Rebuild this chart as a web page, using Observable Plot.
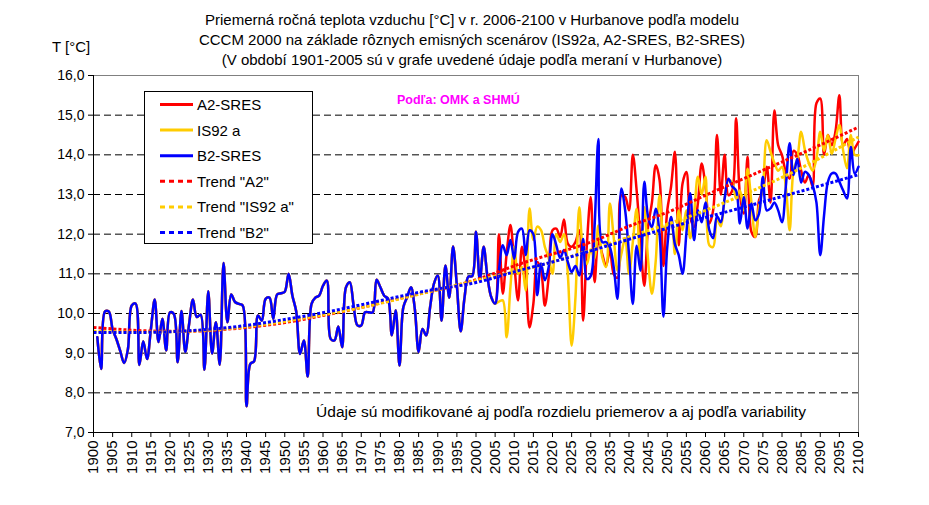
<!DOCTYPE html>
<html><head><meta charset="utf-8">
<script src="https://cdn.jsdelivr.net/npm/d3@7"></script>
<script src="https://cdn.jsdelivr.net/npm/@observablehq/plot@0.6"></script>
<style>body{margin:0;background:#fff;font-family:"Liberation Sans",Arial,sans-serif}</style>
</head><body><div id="chart"></div>
<script>
// Measured values (Hurbanovo), 1901-2005
const firstYear = 1901;
const measured = [
  9.40, 8.60, 10.05, 10.05, 9.60, 9.35, 9.05, 8.75, 9.10, 10.20,
  10.25, 8.70, 9.30, 8.85, 9.60, 10.35, 9.28, 9.87, 9.07, 10.03,
  9.99, 8.77, 10.06, 9.03, 9.74, 10.35, 9.91, 9.97, 8.58, 10.56,
  8.99, 9.78, 8.71, 11.27, 9.78, 10.48, 10.29, 10.24, 10.20, 7.66,
  8.73, 8.80, 9.95, 9.82, 10.37, 10.40, 9.87, 10.48, 10.51, 10.55,
  11.00, 10.45, 10.05, 8.98, 9.32, 8.41, 10.24, 10.40, 10.45, 10.70,
  10.83, 9.36, 9.32, 9.67, 9.15, 10.66, 10.79, 10.20, 9.70, 9.70,
  10.03, 10.03, 10.03, 10.85, 10.66, 10.45, 10.37, 9.45, 10.08, 8.69,
  10.16, 10.41, 10.66, 10.12, 9.03, 9.61, 9.45, 10.16, 10.75, 10.96,
  9.82, 11.21, 10.40, 11.69, 10.70, 9.55, 10.40, 10.93, 10.94, 12.06,
  10.84, 11.68, 10.92, 10.41, 10.25
];
// Scenario values 2006-2100
const futureA2 = [
  12.00, 10.50, 11.50, 12.23, 11.26, 10.33, 11.68, 11.00, 9.65, 10.25,
  11.30, 11.09, 10.20, 10.92, 12.10, 12.14, 11.93, 12.37, 11.76, 11.68,
  11.80, 12.10, 9.82, 11.76, 12.94, 10.79, 11.84, 11.50, 11.20, 11.60,
  11.00, 10.90, 12.98, 12.94, 12.60, 14.00, 13.10, 11.84, 10.70, 12.20,
  12.80, 13.74, 13.36, 11.20, 12.60, 13.20, 14.08, 11.72, 13.28, 13.57,
  12.44, 12.18, 12.77, 13.78, 13.20, 12.27, 12.60, 14.50, 13.00, 14.00,
  12.98, 13.10, 14.92, 13.00, 12.52, 13.95, 12.06, 11.93, 12.86, 13.10,
  13.70, 12.80, 15.12, 14.24, 13.99, 13.57, 13.40, 14.10, 14.00, 13.60,
  13.30, 13.50, 13.20, 15.30, 15.42, 14.00, 14.50, 14.24, 14.60, 15.50,
  14.24, 14.40, 14.00, 14.16, 14.33
];
const futureIS92a = [
  10.30, 10.33, 9.40, 10.67, 11.68, 11.00, 11.17, 10.58, 12.65, 11.85,
  12.19, 12.10, 11.68, 11.40, 11.00, 12.00, 11.80, 12.00, 11.00, 9.19,
  10.40, 12.68, 11.55, 11.25, 11.60, 11.40, 12.22, 11.42, 11.17, 12.77,
  11.92, 11.08, 11.50, 11.90, 11.00, 11.80, 12.64, 11.12, 12.68, 11.34,
  10.50, 11.34, 12.98, 12.09, 12.26, 12.27, 11.50, 12.60, 12.10, 12.60,
  11.90, 12.50, 13.45, 13.00, 13.45, 11.72, 11.68, 12.40, 12.20, 12.90,
  13.36, 13.30, 12.90, 13.10, 12.60, 13.65, 12.80, 11.93, 12.70, 13.20,
  14.37, 14.08, 13.80, 13.60, 13.70, 13.20, 12.10, 13.60, 13.90, 14.58,
  14.12, 13.80, 13.60, 13.90, 14.58, 14.10, 14.50, 14.03, 14.40, 14.75,
  14.10, 13.66, 14.50, 14.00, 13.99
];
const futureB2 = [
  11.09, 11.72, 11.47, 11.85, 11.38, 12.06, 12.14, 11.47, 12.10, 12.00,
  10.46, 11.26, 10.84, 11.17, 12.00, 11.72, 11.40, 11.60, 11.30, 11.05,
  11.20, 10.96, 11.88, 10.87, 10.95, 12.20, 14.40, 11.80, 11.80, 11.67,
  11.17, 10.37, 13.15, 12.60, 11.50, 10.24, 11.71, 11.08, 13.32, 12.43,
  12.18, 12.64, 12.00, 9.92, 11.67, 12.43, 11.75, 11.47, 11.00, 12.02,
  13.03, 11.85, 12.60, 12.30, 12.80, 12.10, 11.90, 12.45, 12.30, 12.90,
  13.40, 13.20, 13.10, 12.27, 12.94, 12.14, 12.77, 12.35, 12.52, 13.44,
  12.60, 12.65, 12.80, 12.60, 12.30, 13.20, 14.29, 13.49, 13.90, 13.30,
  13.57, 13.49, 13.24, 12.80, 11.47, 12.48, 13.32, 13.53, 13.53, 13.32,
  13.10, 12.90, 14.20, 13.53, 13.70
];
// Trend curves read every 10 years
const trendYears = [1900,1910,1920,1930,1940,1950,1960,1970,1980,1990,2000,2010,2020,2030,2040,2050,2060,2070,2080,2090,2100];
const trendA2    = [9.65,9.58,9.55,9.57,9.65,9.77,9.95,10.15,10.38,10.60,10.85,11.20,11.50,11.80,12.20,12.55,12.98,13.40,13.82,14.25,14.70];
const trendIS92a = [9.55,9.53,9.54,9.58,9.67,9.80,9.97,10.15,10.37,10.60,10.83,11.05,11.30,11.60,11.93,12.25,12.60,13.00,13.43,13.92,14.45];
const trendB2    = [9.52,9.52,9.54,9.60,9.70,9.85,10.02,10.22,10.43,10.62,10.78,11.05,11.30,11.58,11.87,12.15,12.42,12.68,12.95,13.22,13.50];

const yTicks = [7,8,9,10,11,12,13,14,15,16];
const gridValues = [8,9,10,11,12,13,14,15];
const xTicks = d3.range(1900, 2101, 5);
const seriesNames = ["A2-SRES", "IS92 a", "B2-SRES"];
const trendNames = ['Trend "A2"', 'Trend "IS92 a"', 'Trend "B2"'];
const seriesColors = ["#FF0000", "#FFCC00", "#0000FF"];
const titleLines = [
  "Priemerná ročná teplota vzduchu [°C] v r. 2006-2100 v Hurbanove podľa modelu",
  "CCCM 2000 na základe rôznych emisných scenárov (IS92a, A2-SRES, B2-SRES)",
  "(V období 1901-2005 sú v grafe uvedené údaje podľa meraní v Hurbanove)"
];

const futures = [futureA2, futureIS92a, futureB2];
const trends = [trendA2, trendIS92a, trendB2];
const seriesRows = futures.map((fut) =>
  measured.concat(fut).map((v, i) => ({year: firstYear + i, value: v}))
);
const trendRows = trends.map(t => t.map((v, i) => ({year: trendYears[i], value: v})));

const font = "Liberation Sans, Arial, sans-serif";
const marks = [
  Plot.ruleY(gridValues, {stroke: "black", strokeDasharray: "7,4", strokeWidth: 1}),
  Plot.frame({stroke: "#808080"})
];
seriesRows.forEach((rows, k) => marks.push(
  Plot.line(rows, {x: "year", y: "value", stroke: seriesColors[k], strokeWidth: 2.5, curve: "catmull-rom"})
));
trendRows.forEach((rows, k) => marks.push(
  Plot.line(rows, {x: "year", y: "value", stroke: seriesColors[k], strokeWidth: 3, strokeDasharray: "3,2", strokeLinecap: "butt", curve: "natural"})
));
marks.push(
  Plot.ruleX([1900], {stroke: "black"}),
  Plot.ruleY([7], {stroke: "black"}),
  Plot.axisY(yTicks, {tickFormat: d => d.toFixed(1).replace(".", ","), tickSize: 5, tickPadding: 4, label: null, fontSize: 14}),
  Plot.axisX(xTicks, {tickFormat: d => String(d), tickRotate: -90, tickSize: 5, tickPadding: 3, label: null, fontSize: 15})
);

const chart = Plot.plot({
  width: 929, height: 505,
  marginLeft: 93, marginRight: 71, marginTop: 75, marginBottom: 73,
  style: {fontFamily: font, color: "black", background: "white", overflow: "visible"},
  x: {domain: [1900, 2100]},
  y: {domain: [7, 16]},
  marks
});
document.getElementById("chart").append(chart);

const svg = d3.select(chart);
const g = svg.append("g").attr("font-family", font).attr("text-anchor", "start");
titleLines.forEach((t, i) => g.append("text")
  .attr("x", 472).attr("y", 25 + i * 20).attr("text-anchor", "middle")
  .attr("font-size", 15).attr("fill", "black").text(t));
g.append("text").attr("x", 52).attr("y", 52).attr("font-size", 15).text("T [°C]");
g.append("text").attr("x", 397).attr("y", 104).attr("font-size", 12.5)
  .attr("font-weight", "bold").attr("fill", "#FF00FF").text("Podľa: OMK a SHMÚ");
g.append("text").attr("x", 561).attr("y", 417).attr("text-anchor", "middle").attr("font-size", 15.5)
  .text("Údaje sú modifikované aj podľa rozdielu priemerov a aj podľa variability");

// legend
const lg = g.append("g");
lg.append("rect").attr("x", 144.5).attr("y", 91.5).attr("width", 168).attr("height", 152)
  .attr("fill", "white").attr("stroke", "black");
const legendItems = seriesNames.map((n, k) => ({name: n, color: seriesColors[k], dash: null}))
  .concat(trendNames.map((n, k) => ({name: n, color: seriesColors[k], dash: "5,4"})));
legendItems.forEach((it, i) => {
  const y = 104.5 + i * 25.6;
  lg.append("line").attr("x1", 160).attr("x2", 193).attr("y1", y).attr("y2", y)
    .attr("stroke", it.color).attr("stroke-width", 3).attr("stroke-dasharray", it.dash);
  lg.append("text").attr("x", 197).attr("y", y + 5.5).attr("font-size", 15).attr("text-anchor", "start").text(it.name);
});
</script></body></html>
